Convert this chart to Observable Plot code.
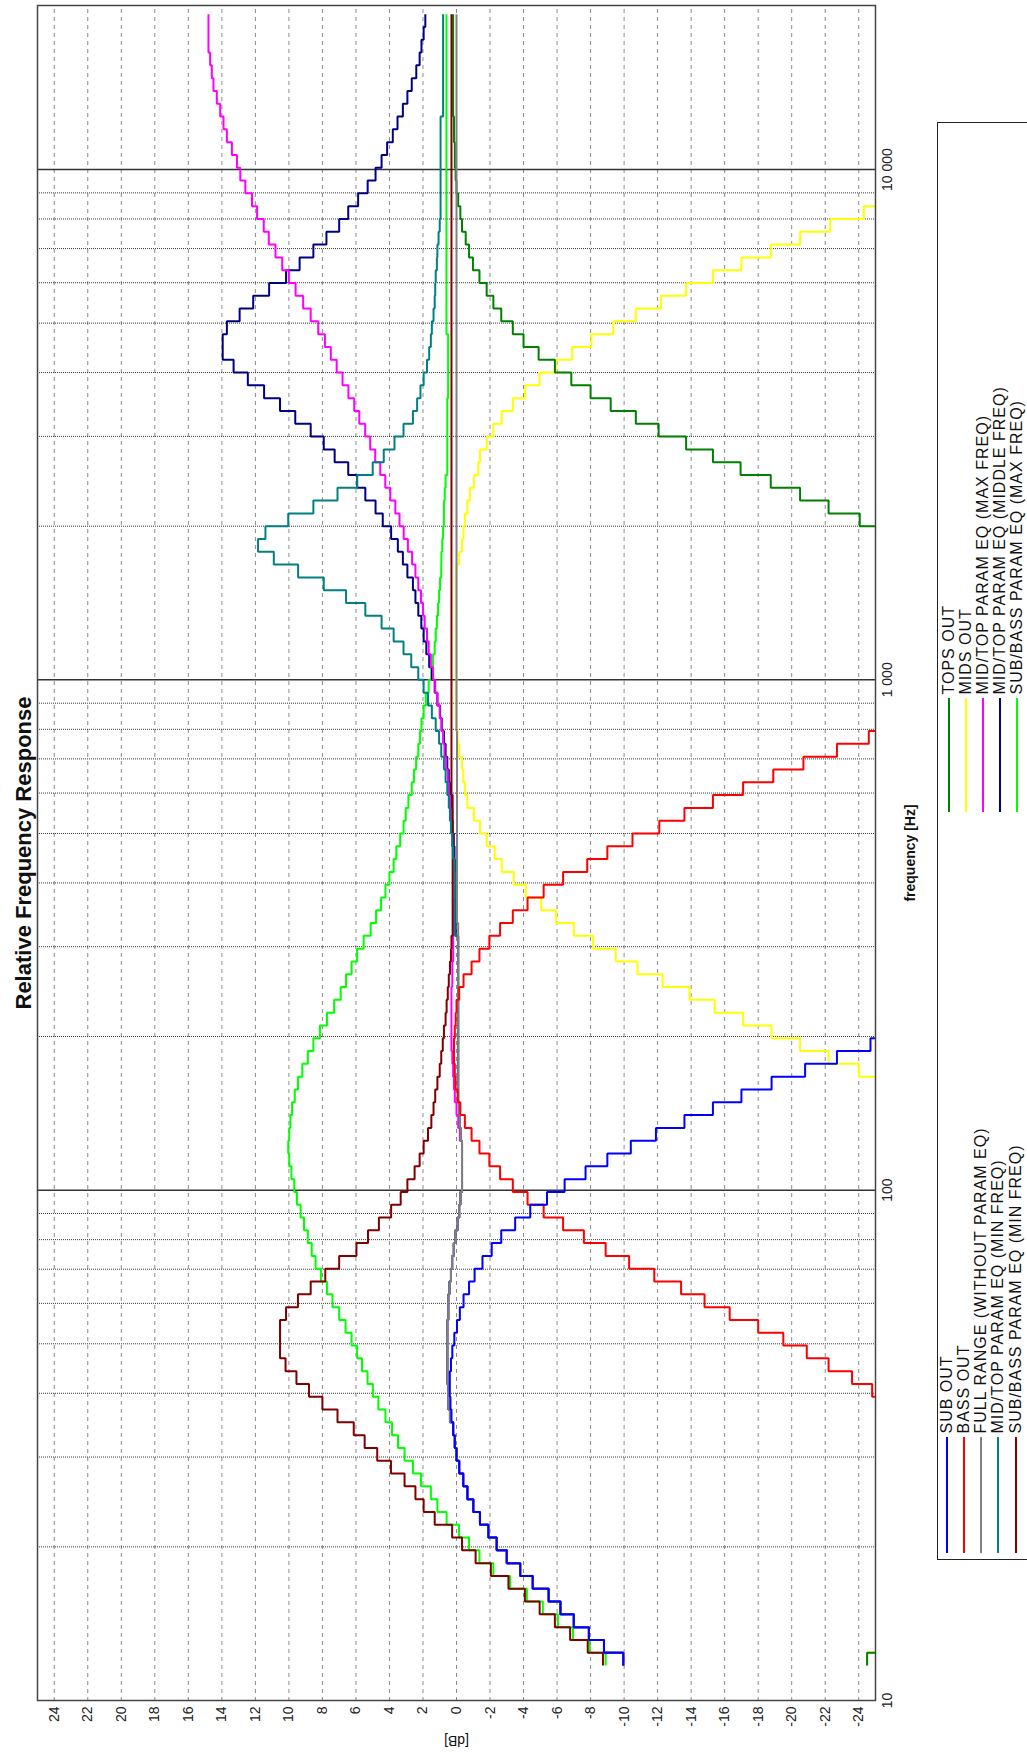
<!DOCTYPE html>
<html>
<head>
<meta charset="utf-8">
<script src="https://cdn.jsdelivr.net/npm/d3@7"></script>
<script src="https://cdn.jsdelivr.net/npm/@observablehq/plot@0.6"></script>
<style>
  html, body { margin: 0; padding: 0; background: #fff; overflow: hidden; width: 1027px; height: 1752px; }
  #rot { position: absolute; left: 0; top: 0; width: 1752px; height: 1027px; transform-origin: 0 0;
         transform: translate(0px, 1752px) rotate(-90deg); font-family: "Liberation Sans", Arial, sans-serif; background: #fff; }
  #chart { position: absolute; left: 0; top: 0; }
  #legend { position: absolute; left: 192px; top: 937px; width: 1438px; height: 160px; border: 1.5px solid #222; box-sizing: border-box; }
  .item { position: absolute; height: 14px; line-height: 14px; display: flex; align-items: center; white-space: nowrap;
          font-size: 16px; letter-spacing: 1px; color: #111; }
  .sw { height: 2px; margin-right: 4px; flex: none; }
</style>
</head>
<body>
<div id="rot"><div id="chart"></div><div id="legend"></div></div>
<script>
// 1/12-octave band edges (Hz), n = -77 .. 52 relative to 1 kHz
const freqs = [
  11.71, 12.40, 13.14, 13.92, 14.75, 15.63, 16.55, 17.54, 18.58, 19.69, 20.86, 22.10,
  23.41, 24.80, 26.28, 27.84, 29.50, 31.25, 33.11, 35.08, 37.16, 39.37, 41.71, 44.19,
  46.82, 49.61, 52.56, 55.68, 58.99, 62.50, 66.22, 70.15, 74.33, 78.75, 83.43, 88.39,
  93.64, 99.21, 105.1, 111.4, 118.0, 125.0, 132.4, 140.3, 148.7, 157.5, 166.9, 176.8,
  187.3, 198.4, 210.2, 222.7, 236.0, 250.0, 264.9, 280.6, 297.3, 315.0, 333.7, 353.6,
  374.6, 396.9, 420.4, 445.4, 471.9, 500.0, 529.7, 561.2, 594.6, 630.0, 667.4, 707.1,
  749.2, 793.7, 840.9, 890.9, 943.9, 1000, 1059, 1122, 1189, 1260, 1335, 1414,
  1498, 1587, 1682, 1782, 1888, 2000, 2119, 2245, 2378, 2520, 2670, 2828,
  2997, 3175, 3364, 3564, 3776, 4000, 4238, 4490, 4757, 5040, 5339, 5657,
  5993, 6350, 6727, 7127, 7551, 8000, 8476, 8980, 9514, 10079, 10679, 11314,
  11986, 12699, 13454, 14254, 15102, 16000, 16951, 17959, 19027, 20159
];

const dbTicks = [24, 22, 20, 18, 16, 14, 12, 10, 8, 6, 4, 2, 0, -2, -4, -6, -8, -10, -12, -14, -16, -18, -20, -22, -24];
const freqTicks = [10, 100, 1000, 10000];
const freqTickLabels = ["10", "100", "1 000", "10 000"];
const freqMinor = [20, 30, 40, 50, 60, 70, 80, 90, 200, 300, 400, 500, 600, 700, 800, 900,
                   2000, 3000, 4000, 5000, 6000, 7000, 8000, 9000];

const titleText = "Relative Frequency Response";
const xLabel = "frequency [Hz]";
const yLabel = "[dB]";

const seriesNames = ["SUB OUT", "BASS OUT", "FULL RANGE (WITHOUT PARAM EQ)", "MID/TOP PARAM EQ (MIN FREQ)",
  "SUB/BASS PARAM EQ (MIN FREQ)", "TOPS OUT", "MIDS OUT", "MID/TOP PARAM EQ (MAX FREQ)",
  "MID/TOP PARAM EQ (MIDDLE FREQ)", "SUB/BASS PARAM EQ (MAX FREQ)"];
const seriesColors = ["#0000ff", "#ff0000", "#808080", "#008080", "#800000", "#008000", "#ffff00", "#ff00ff", "#000080", "#00ff00"];

const N = null;
// values in dB per band (n = -77 .. 51)
const subOut = [
  -9.95, -8.8, -7.9, -7.0, -6.2, -5.5, -4.55, -3.8, -3.0, -2.4, -1.9, -1.4,
  -1.0, -0.65, -0.4, -0.16, 0.0, 0.1, 0.2, 0.3, 0.36, 0.4, 0.4, 0.33,
  0.25, 0.13, -0.03, -0.2, -0.42, -0.75, -1.08, -1.55, -2.1, -2.67, -3.5, -4.4,
  -5.4, -6.45, -7.7, -9.0, -10.4, -11.9, -13.6, -15.3, -17.0, -18.8, -20.8, -22.7,
  -24.7, -26, N, N, N, N, N, N, N, N, N, N,
  N, N, N, N, N, N, N, N, N, N, N, N,
  N, N, N, N, N, N, N, N, N, N, N, N,
  N, N, N, N, N, N, N, N, N, N, N, N,
  N, N, N, N, N, N, N, N, N, N, N, N,
  N, N, N, N, N, N, N, N, N, N, N, N,
  N, N, N, N, N, N, N, N, N
];
const bassOut = [
  N, N, N, N, N, N, N, N, N, N, N, N,
  N, N, N, N, N, N, N, N, -26, -24.8, -23.6, -22.2,
  -20.9, -19.5, -18.0, -16.3, -14.8, -13.4, -11.8, -10.3, -8.9, -7.6, -6.36, -5.2,
  -4.24, -3.36, -2.6, -1.96, -1.37, -0.9, -0.5, -0.23, -0.07, 0.05, 0.1, 0.15,
  0.15, 0.1, 0.05, 0.0, -0.16, -0.42, -0.9, -1.37, -1.96, -2.6, -3.36, -4.24,
  -5.2, -6.36, -7.8, -9.0, -10.5, -12.1, -13.6, -15.3, -17.1, -18.9, -20.7, -22.7,
  -24.6, -26, N, N, N, N, N, N, N, N, N, N,
  N, N, N, N, N, N, N, N, N, N, N, N,
  N, N, N, N, N, N, N, N, N, N, N, N,
  N, N, N, N, N, N, N, N, N, N, N, N,
  N, N, N, N, N, N, N, N, N
];
const fullRange = [
  -9.95, -8.8, -7.9, -7.0, -6.2, -5.5, -4.55, -3.8, -3.0, -2.4, -1.9, -1.4,
  -1.0, -0.65, -0.4, -0.16, 0.0, 0.1, 0.2, 0.39, 0.49, 0.49, 0.55, 0.55,
  0.55, 0.55, 0.55, 0.49, 0.49, 0.42, 0.33, 0.26, 0.16, 0.07, -0.07, -0.16,
  -0.23, -0.33, -0.33, -0.33, -0.33, -0.26, -0.2, -0.16, -0.1, -0.1, -0.1, -0.1,
  -0.1, -0.1, -0.1, -0.1, -0.1, -0.1, -0.1, -0.1, -0.1, -0.1, -0.03, -0.03,
  -0.03, -0.03, -0.03, -0.03, -0.03, -0.03, -0.03, -0.03, -0.03, -0.03, -0.03, -0.03,
  -0.03, 0, 0, 0, 0, 0, 0, 0, 0, 0, 0, 0,
  0, 0, 0, 0, 0, 0, 0, 0, 0, 0, 0, 0,
  0, 0, 0, 0, 0, 0, 0, 0, 0, 0, 0, 0,
  0, 0, 0, 0, 0, 0, 0, 0, 0, 0, 0, 0,
  0, 0, 0, 0, 0, 0, 0, 0, 0
];
const midTopMin = [
  -9.95, -8.8, -7.9, -7.0, -6.2, -5.5, -4.55, -3.8, -3.0, -2.4, -1.9, -1.4,
  -1.0, -0.65, -0.4, -0.16, 0.0, 0.1, 0.2, 0.39, 0.49, 0.49, 0.55, 0.55,
  0.55, 0.55, 0.55, 0.49, 0.49, 0.42, 0.33, 0.26, 0.16, 0.07, -0.07, -0.16,
  -0.23, -0.33, -0.33, -0.33, -0.33, -0.26, -0.2, -0.16, -0.1, -0.1, -0.1, -0.1,
  -0.1, -0.1, -0.1, -0.1, -0.1, -0.1, -0.1, -0.1, -0.1, 0.1, 0.1, 0.1,
  0.1, 0.1, 0.13, 0.2, 0.26, 0.33, 0.39, 0.46, 0.55, 0.65, 0.75, 0.91,
  1.04, 1.24, 1.47, 1.7, 1.96, 2.28, 2.7, 3.16, 3.75, 4.47, 5.44, 6.59,
  7.92, 9.45, 10.9, 11.84, 11.4, 10.04, 8.54, 7.1, 5.93, 5.0, 4.34, 3.7,
  3.16, 2.6, 2.35, 2.15, 1.96, 1.76, 1.63, 1.53, 1.47, 1.37, 1.3, 1.27,
  1.24, 1.17, 1.14, 1.07, 1.0, 0.95, 0.95, 0.95, 0.95, 0.95, 0.95, 0.95,
  0.95, 0.8, 0.8, 0.8, 0.8, 0.8, 0.8, 0.8, 0.8
];
const subBassMin = [
  -8.74, -7.83, -6.78, -5.87, -4.96, -4.08, -3.1, -2.05, -1.14, -0.33, 0.26, 1.3,
  1.96, 2.45, 3.1, 3.91, 4.73, 5.48, 6.13, 7.1, 8.0, 8.8, 9.55, 10.2,
  10.53, 10.53, 10.53, 10.17, 9.46, 8.7, 7.83, 7.0, 5.97, 5.28, 4.63, 3.9,
  3.33, 2.93, 2.5, 2.2, 1.96, 1.7, 1.5, 1.37, 1.27, 1.14, 1.0, 0.91,
  0.82, 0.75, 0.65, 0.59, 0.52, 0.46, 0.39, 0.33, 0.3, 0.23, 0.23, 0.23,
  0.23, 0.23, 0.23, 0.23, 0.23, 0.23, 0.23, 0.23, 0.3, 0.3, 0.3, 0.3,
  0.3, 0.3, 0.3, 0.3, 0.3, 0.3, 0.3, 0.3, 0.3, 0.3, 0.3, 0.3,
  0.3, 0.3, 0.3, 0.3, 0.3, 0.3, 0.3, 0.3, 0.3, 0.3, 0.3, 0.3,
  0.3, 0.3, 0.3, 0.3, 0.3, 0.3, 0.3, 0.3, 0.3, 0.3, 0.3, 0.3,
  0.3, 0.3, 0.3, 0.3, 0.3, 0.3, 0.3, 0.3, 0.3, 0.3, 0.3, 0.3,
  0.3, 0.3, 0.3, 0.3, 0.3, 0.3, 0.3, 0.3, 0.3
];
const topsOut = [
  -24.5, -26, N, N, N, N, N, N, N, N, N, N,
  N, N, N, N, N, N, N, N, N, N, N, N,
  N, N, N, N, N, N, N, N, N, N, N, N,
  N, N, N, N, N, N, N, N, N, N, N, N,
  N, N, N, N, N, N, N, N, N, N, N, N,
  N, N, N, N, N, N, N, N, N, N, N, N,
  N, N, N, N, N, N, N, N, N, N, N, N,
  N, N, N, N, -26, -24.06, -22.2, -20.5, -18.75, -16.95, -15.3, -13.7,
  -12.06, -10.7, -9.2, -8.0, -6.85, -5.87, -4.9, -4.0, -3.36, -2.67, -2.2, -1.8,
  -1.37, -0.98, -0.75, -0.55, -0.33, -0.23, -0.1, 0.0, 0.05, 0.1, 0.1, 0.15,
  0.15, 0.2, 0.2, 0.2, 0.2, 0.2, 0.2, 0.2, 0.2
];
const midsOut = [
  -24.5, -26, N, N, N, N, N, N, N, N, N, N,
  N, N, N, N, N, N, N, N, N, N, N, N,
  N, N, N, N, N, N, N, N, N, N, N, N,
  N, N, N, N, N, N, N, N, N, -26, -24.0, -22.2,
  -20.5, -18.8, -17.1, -15.4, -13.9, -12.3, -10.8, -9.5, -8.15, -7.0, -5.93, -5.05,
  -4.14, -3.42, -2.7, -2.28, -1.8, -1.4, -1.04, -0.65, -0.5, -0.4, -0.33, -0.16,
  -0.07, 0, 0, 0, 0, 0, 0, 0, 0, 0, 0, 0,
  0, 0, -0.16, -0.33, -0.42, -0.5, -0.65, -0.8, -1.04, -1.3, -1.4, -1.8,
  -2.2, -2.7, -3.36, -4.1, -4.96, -5.93, -6.9, -8.05, -9.36, -10.7, -12.2, -13.7,
  -15.3, -17.0, -18.75, -20.5, -22.3, -24.3, -26, N, N, N, N, N,
  N, N, N, N, N, N, N, N, N
];
const midTopMax = [
  -9.95, -8.8, -7.9, -7.0, -6.2, -5.5, -4.55, -3.8, -3.0, -2.4, -1.9, -1.4,
  -1.0, -0.65, -0.4, -0.16, 0.0, 0.1, 0.2, 0.39, 0.49, 0.49, 0.55, 0.55,
  0.55, 0.55, 0.55, 0.49, 0.49, 0.42, 0.33, 0.26, 0.16, 0.07, -0.07, -0.16,
  -0.23, -0.33, -0.33, -0.33, -0.33, -0.2, -0.1, 0.0, 0.1, 0.15, 0.2, 0.25,
  0.3, 0.3, 0.3, 0.3, 0.3, 0.25, 0.25, 0.2, 0.2, 0.2, 0.15, 0.15,
  0.13, 0.13, 0.16, 0.2, 0.23, 0.26, 0.33, 0.39, 0.46, 0.52, 0.62, 0.72,
  0.8, 0.9, 1.0, 1.14, 1.27, 1.4, 1.53, 1.66, 1.76, 1.9, 2.0, 2.12,
  2.28, 2.45, 2.65, 2.9, 3.15, 3.4, 3.65, 3.95, 4.25, 4.55, 4.85, 5.15,
  5.45, 5.8, 6.1, 6.45, 6.8, 7.15, 7.5, 7.85, 8.25, 8.7, 9.15, 9.6,
  10.0, 10.4, 10.8, 11.2, 11.5, 11.9, 12.2, 12.6, 12.9, 13.1, 13.4, 13.7,
  13.9, 14.1, 14.3, 14.5, 14.6, 14.7, 14.8, 14.8, 14.8
];
const midTopMiddle = [
  -9.95, -8.8, -7.9, -7.0, -6.2, -5.5, -4.55, -3.8, -3.0, -2.4, -1.9, -1.4,
  -1.0, -0.65, -0.4, -0.16, 0.0, 0.1, 0.2, 0.39, 0.49, 0.49, 0.55, 0.55,
  0.55, 0.55, 0.55, 0.49, 0.49, 0.42, 0.33, 0.26, 0.16, 0.07, -0.07, -0.16,
  -0.23, -0.33, -0.33, -0.33, -0.33, -0.26, -0.2, -0.16, -0.1, -0.1, -0.1, -0.1,
  -0.1, -0.1, -0.1, -0.1, -0.1, -0.1, -0.1, -0.1, -0.1, 0.05, 0.05, 0.07,
  0.08, 0.1, 0.1, 0.12, 0.16, 0.23, 0.26, 0.33, 0.39, 0.46, 0.55, 0.65,
  0.75, 0.88, 0.98, 1.14, 1.3, 1.47, 1.63, 1.8, 1.96, 2.1, 2.28, 2.45,
  2.6, 2.93, 3.2, 3.5, 3.9, 4.4, 4.83, 5.44, 5.93, 6.46, 7.27, 7.92,
  8.7, 9.62, 10.53, 11.48, 12.45, 13.3, 13.95, 13.95, 13.7, 12.94, 12.13, 11.18,
  10.17, 9.36, 8.54, 7.76, 7.0, 6.46, 5.87, 5.3, 4.83, 4.47, 4.14, 3.8,
  3.52, 3.2, 2.93, 2.67, 2.4, 2.2, 2.09, 1.96, 1.86
];
const subBassMax = [
  -8.9, -7.95, -6.95, -6.05, -5.15, -4.2, -3.2, -2.2, -1.37, -0.75, -0.15, 0.59,
  1.14, 1.53, 2.12, 2.6, 3.1, 3.49, 3.85, 4.24, 4.66, 4.99, 5.31, 5.64,
  5.93, 6.26, 6.62, 7.0, 7.4, 7.73, 8.09, 8.41, 8.64, 8.87, 9.1, 9.3,
  9.52, 9.68, 9.85, 9.98, 10.04, 9.98, 9.91, 9.81, 9.65, 9.46, 9.2, 8.87,
  8.54, 8.15, 7.73, 7.3, 6.91, 6.59, 6.26, 5.93, 5.54, 5.12, 4.8, 4.5,
  4.24, 4.0, 3.75, 3.59, 3.36, 3.16, 3.03, 2.87, 2.67, 2.54, 2.41, 2.28,
  2.18, 2.09, 1.96, 1.83, 1.66, 1.5, 1.4, 1.3, 1.24, 1.17, 1.1, 1.04,
  0.98, 0.91, 0.9, 0.85, 0.8, 0.75, 0.75, 0.7, 0.65, 0.55, 0.55, 0.55,
  0.55, 0.55, 0.55, 0.5, 0.5, 0.5, 0.5, 0.5, 0.6, 0.6, 0.6, 0.6,
  0.6, 0.6, 0.6, 0.6, 0.6, 0.6, 0.6, 0.6, 0.6, 0.6, 0.6, 0.6,
  0.6, 0.6, 0.6, 0.6, 0.6, 0.6, 0.6, 0.6, 0.6
];

const seriesValues = [subOut, bassOut, fullRange, midTopMin, subBassMin, topsOut, midsOut, midTopMax, midTopMiddle, subBassMax];

function rowsFor(vals) {
  const r = vals.map((v, i) => ({f: freqs[i], v}));
  const last = vals[vals.length - 1];
  if (last != null) r.push({f: freqs[vals.length], v: last});
  return r;
}

const labelOf = new Map(freqTicks.map((d, i) => [d, freqTickLabels[i]]));

const lineMarks = [];
for (let k = seriesValues.length - 1; k >= 0; k--) {
  lineMarks.push(Plot.line(rowsFor(seriesValues[k]), {
    x: "f", y: "v", stroke: seriesColors[k], strokeWidth: 2, curve: "step-after",
    clip: true, strokeLinejoin: "miter", strokeLinecap: "butt"
  }));
}

const chart = Plot.plot({
  width: 1752,
  height: 1027,
  marginLeft: 51,
  marginRight: 6,
  marginTop: 37,
  marginBottom: 152,
  style: {fontFamily: '"Liberation Sans", Arial, sans-serif', fontSize: "14px", color: "#222", background: "#fff"},
  x: {type: "log", domain: [10, 20960]},
  y: {domain: [-25, 25]},
  marks: [
    Plot.ruleY(dbTicks, {stroke: "#8a8a8a", strokeWidth: 1, strokeDasharray: "4,4"}),
    Plot.ruleX(freqMinor, {stroke: "#3a3a3a", strokeWidth: 1, strokeDasharray: "1,1"}),
    Plot.ruleX(freqTicks.slice(1), {stroke: "#333", strokeWidth: 1.5}),
    ...lineMarks,
    Plot.frame({stroke: "#444", strokeWidth: 1.5}),
    Plot.axisY({ticks: dbTicks, tickSize: 0, tickPadding: 6, tickFormat: d => String(d), fontSize: 14, label: null}),
    Plot.axisX({ticks: freqTicks, tickSize: 0, tickPadding: 7, tickFormat: d => labelOf.get(d), fontSize: 14, label: null}),
    Plot.text([titleText], {text: d => d, frameAnchor: "top", dy: -14, textAnchor: "middle", lineAnchor: "middle",
      fontSize: 22, fontWeight: "bold", fill: "#111"}),
    Plot.text([xLabel], {text: d => d, frameAnchor: "bottom", dy: 35, textAnchor: "middle", lineAnchor: "middle",
      fontSize: 14, fontWeight: "bold", fill: "#111"}),
    Plot.text([yLabel], {text: d => d, frameAnchor: "left", dx: -40, rotate: -90, textAnchor: "middle", lineAnchor: "middle",
      fontSize: 14, fill: "#111"})
  ]
});
document.getElementById("chart").appendChild(chart);

// legend (two columns)
const legend = document.getElementById("legend");
const boxLeft = 192 + 1.5, boxTop = 937 + 1.5;
const cols = [
  {items: [0, 1, 2, 3, 4], swX: 199, swW: 116, y0: 947, dy: 17.3},
  {items: [5, 6, 7, 8, 9], swX: 940, swW: 114, y0: 949, dy: 17.2}
];
cols.forEach(c => {
  c.items.forEach((k, j) => {
    const it = document.createElement("div");
    it.className = "item";
    it.style.left = (c.swX - boxLeft) + "px";
    it.style.top = (c.y0 + j * c.dy - 7 - boxTop) + "px";
    const sw = document.createElement("span");
    sw.className = "sw";
    sw.style.width = c.swW + "px";
    sw.style.background = seriesColors[k];
    const tx = document.createElement("span");
    tx.textContent = seriesNames[k];
    it.appendChild(sw);
    it.appendChild(tx);
    legend.appendChild(it);
  });
});
</script>
</body>
</html>
